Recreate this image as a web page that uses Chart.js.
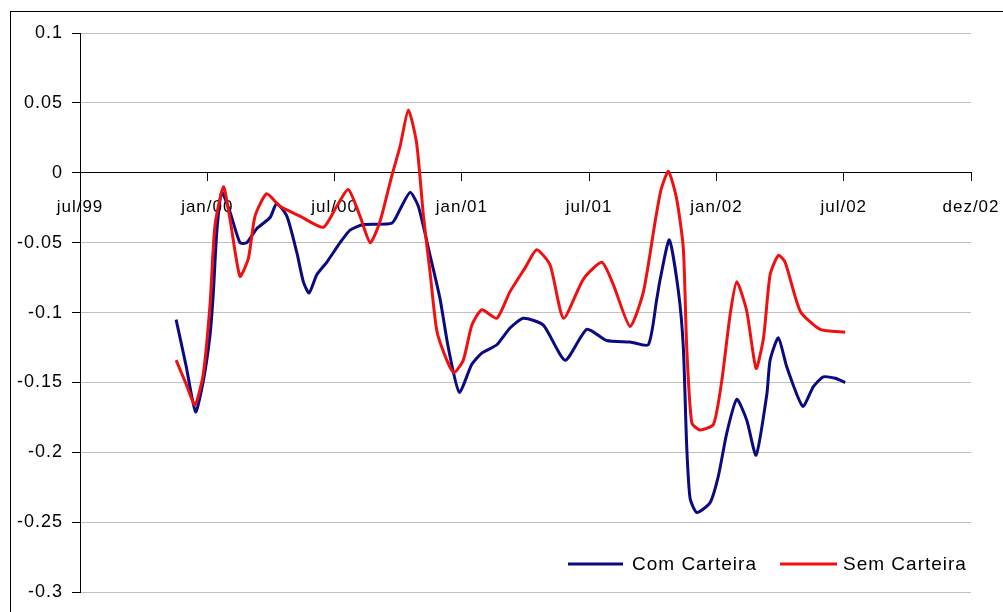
<!DOCTYPE html>
<html>
<head>
<meta charset="utf-8">
<script src="https://cdn.jsdelivr.net/npm/chart.js@4/dist/chart.umd.min.js"></script>
<style>
  body { margin: 0; background: #fff; }
  #wrap { position: relative; width: 1003px; height: 612px; overflow: hidden; }
  #frame { position: absolute; left: 10px; top: 11px; width: 1100px; height: 700px; border: 1px solid #000; }
  #canvas1 { position: absolute; left: 0; top: 0; }
</style>
</head>
<body>
<div id="wrap">
  <div id="frame"></div>
  <canvas id="canvas1" width="1003" height="612"></canvas>
</div>
<script>
// eixo x em meses a partir de jul/99
var xLabels = ["jul/99", "jan/00", "jul/00", "jan/01", "jul/01", "jan/02", "jul/02", "dez/02"];

var mesesCom = [4.53, 5.00, 5.45, 5.81, 6.13, 6.28, 6.45, 6.68, 7.07, 7.54, 7.86, 8.33, 8.96, 9.27, 9.75,
  10.22, 10.53, 10.80, 11.16, 11.63, 12.26, 12.73, 13.36, 14.70, 15.09, 15.56, 15.95, 16.50, 16.97, 17.36,
  17.88, 18.47, 18.94, 19.65, 20.27, 20.90, 21.84, 22.87, 23.89, 24.83, 25.93, 26.79, 27.19, 27.35, 27.78,
  28.21, 28.44, 28.60, 28.76, 29.08, 29.70, 30.09, 30.49, 30.96, 31.43, 31.87, 32.38, 32.53, 32.92, 33.32,
  34.07, 34.57, 35.04, 35.60, 36.07];
var comCarteira = [-0.105, -0.138, -0.171, -0.149, -0.116, -0.087, -0.042, -0.014, -0.028, -0.050, -0.050, -0.040, -0.032, -0.022, -0.031,
  -0.057, -0.078, -0.086, -0.073, -0.064, -0.050, -0.041, -0.037, -0.036, -0.026, -0.014, -0.024, -0.059, -0.090, -0.125,
  -0.157, -0.137, -0.129, -0.123, -0.111, -0.104, -0.109, -0.134, -0.112, -0.120, -0.121, -0.123, -0.090, -0.076, -0.048,
  -0.085, -0.125, -0.196, -0.233, -0.243, -0.236, -0.217, -0.186, -0.162, -0.177, -0.202, -0.158, -0.134, -0.118, -0.139,
  -0.167, -0.153, -0.146, -0.147, -0.150];

var mesesSem = [4.53, 5.00, 5.42, 5.81, 6.13, 6.36, 6.76, 7.07, 7.54, 7.94, 8.25, 8.80, 9.43, 10.37, 11.47,
  12.10, 12.65, 13.20, 13.68, 14.14, 14.70, 15.09, 15.48, 15.87, 16.19, 16.50, 16.82, 17.29, 17.63, 18.07,
  18.47, 18.94, 19.65, 20.27, 20.98, 21.53, 22.16, 22.79, 23.73, 24.60, 25.14, 25.93, 26.56, 27.11, 27.39,
  27.74, 28.13, 28.44, 28.60, 28.84, 29.23, 29.86, 30.25, 30.65, 30.96, 31.43, 31.87, 32.22, 32.53, 32.92,
  33.24, 33.95, 34.89, 36.07];
var semCarteira = [-0.134, -0.151, -0.166, -0.144, -0.094, -0.038, -0.010, -0.033, -0.074, -0.061, -0.031, -0.015, -0.024, -0.031, -0.039,
  -0.024, -0.012, -0.031, -0.050, -0.035, -0.002, 0.019, 0.045, 0.021, -0.031, -0.071, -0.113, -0.134, -0.143, -0.134,
  -0.109, -0.098, -0.104, -0.085, -0.068, -0.055, -0.066, -0.104, -0.076, -0.064, -0.080, -0.110, -0.085, -0.035, -0.012,
  0.001, -0.019, -0.054, -0.125, -0.179, -0.184, -0.180, -0.149, -0.101, -0.078, -0.099, -0.140, -0.118, -0.073, -0.059,
  -0.064, -0.099, -0.112, -0.114];

var series = ["Com Carteira", "Sem Carteira"];
var colors = ["#0a0a82", "#f01010"];

function pontos(xs, ys) {
  return xs.map(function (x, i) { return { x: x, y: ys[i] }; });
}

// legenda dentro da area do grafico, canto inferior direito
var legendaPlugin = {
  id: 'legenda',
  afterDraw: function (chart) {
    var ctx = chart.ctx;
    var items = [[568, 623, 632], [780, 837, 843]];
    ctx.save();
    ctx.letterSpacing = '1px';
    ctx.font = '19px "Liberation Sans", Arial, sans-serif';
    ctx.textBaseline = 'middle';
    ctx.fillStyle = '#000';
    items.forEach(function (it, i) {
      ctx.strokeStyle = colors[i];
      ctx.lineWidth = 3;
      ctx.beginPath();
      ctx.moveTo(it[0], 564);
      ctx.lineTo(it[1], 564);
      ctx.stroke();
      ctx.fillText(series[i], it[2], 565);
    });
    ctx.restore();
  }
};

var espacamento = {
  id: 'espacamento',
  beforeDraw: function (chart) { chart.ctx.letterSpacing = '1px'; }
};

new Chart(document.getElementById('canvas1'), {
  type: 'line',
  data: {
    datasets: [{
      label: series[0],
      data: pontos(mesesCom, comCarteira),
      borderColor: colors[0],
      borderWidth: 3,
      pointRadius: 0,
      tension: 0.2,
      order: 1
    }, {
      label: series[1],
      data: pontos(mesesSem, semCarteira),
      borderColor: colors[1],
      borderWidth: 3,
      pointRadius: 0,
      tension: 0.2,
      order: 0
    }]
  },
  options: {
    responsive: false,
    animation: false,
    devicePixelRatio: 1,
    layout: { padding: { left: 0, top: 33, right: 32, bottom: 14.5 } },
    plugins: { legend: { display: false }, tooltip: { enabled: false } },
    scales: {
      x: {
        type: 'linear',
        position: { y: 0 },
        min: 0,
        max: 42,
        afterFit: function (scale) { scale.paddingLeft = 0; scale.paddingRight = 0; },
        grid: { drawOnChartArea: false, drawTicks: true, tickLength: 8, tickColor: '#000' },
        border: { color: '#000', width: 1 },
        ticks: {
          stepSize: 6,
          autoSkip: false,
          maxRotation: 0,
          padding: 16,
          color: '#000',
          font: { family: '"Liberation Sans", Arial, sans-serif', size: 17 },
          callback: function (v) { return xLabels[Math.round(v / 6)]; }
        }
      },
      y: {
        min: -0.3,
        max: 0.1,
        afterFit: function (scale) { scale.width = 80; },
        grid: { color: '#c0c0c0', lineWidth: 1, tickLength: 8, tickColor: '#000' },
        border: { color: '#000', width: 1 },
        ticks: {
          stepSize: 0.05,
          padding: 9,
          color: '#000',
          font: { family: '"Liberation Sans", Arial, sans-serif', size: 18 },
          callback: function (v) { return String(Number(v.toFixed(2))); }
        }
      }
    }
  },
  plugins: [espacamento, legendaPlugin]
});
</script>
</body>
</html>
